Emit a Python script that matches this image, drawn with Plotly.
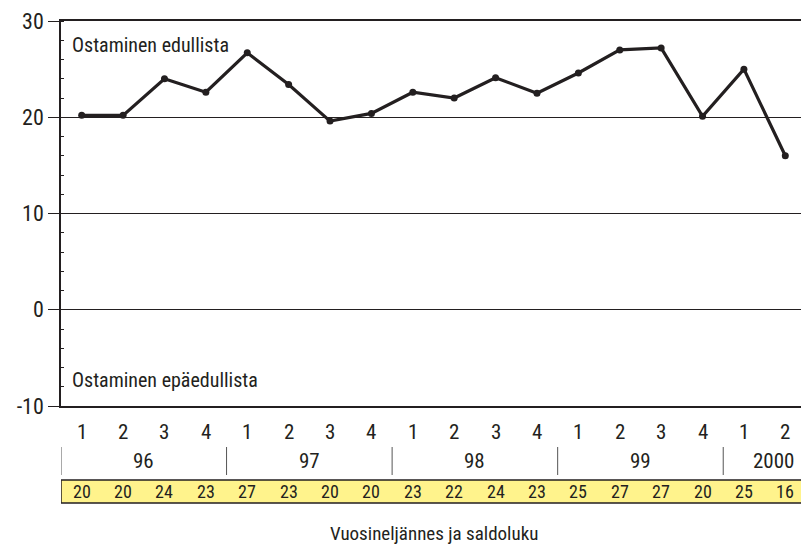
import plotly.graph_objects as go

quarters = ["1", "2", "3", "4"] * 4 + ["1", "2"]
years = ["96", "97", "98", "99", "2000"]
year_spans = [(0, 3), (4, 7), (8, 11), (12, 15), (16, 17)]
values = [20.2, 20.2, 24.0, 22.6, 26.7, 23.4, 19.6, 20.4, 22.6, 22.0,
          24.1, 22.5, 24.6, 27.0, 27.2, 20.1, 25.0, 16.0]
table_values = [20, 20, 24, 23, 27, 23, 20, 20, 23, 22, 24, 23, 25, 27, 27, 20, 25, 16]
y_ticks = [30, 20, 10, 0, -10]

FONT = "Roboto Condensed, DejaVu Sans Condensed, sans-serif"
INK = "#231f20"
W, H = 809, 544
OFF = 8  # page body margin offset
# plot area in page pixels: x 61..806, y 21..406
L = 61 - OFF
T = 21 - OFF
R = W - (806 - OFF)
B = H - (406 - OFF)
PH = H - T - B


def py(p):
    # page pixel y (from top) -> paper coordinate
    return ((406 - OFF) - (p - OFF)) / PH


def txt(size):
    return dict(size=size, color=INK, family=FONT)


x = list(range(len(values)))
fig = go.Figure()
fig.add_trace(go.Scatter(
    x=x, y=values, mode="lines+markers",
    line=dict(color=INK, width=3.2),
    marker=dict(color=INK, size=7),
    hoverinfo="skip", showlegend=False,
))

annotations = []
shapes = []

# quarter labels
for i, q in enumerate(quarters):
    annotations.append(dict(x=i, y=py(432), xref="x", yref="paper", text=q,
                            yanchor="middle", showarrow=False, font=txt(21)))
# year labels and separators
for (a, b), yr in zip(year_spans, years):
    if yr == "2000":
        annotations.append(dict(x=b + 0.5, y=py(461), xref="x", yref="paper", text=yr,
                                xanchor="right", yanchor="middle", xshift=-10,
                                showarrow=False, font=txt(21)))
    else:
        annotations.append(dict(x=(a + b) / 2, y=py(461), xref="x", yref="paper", text=yr,
                                yanchor="middle", showarrow=False, font=txt(21)))
    shapes.append(dict(type="line", xref="x", yref="paper", x0=a - 0.5, x1=a - 0.5,
                       y0=py(447), y1=py(475), line=dict(color="#555555", width=1)))
shapes.append(dict(type="line", xref="x", yref="paper", x0=17.5, x1=17.5,
                   y0=py(447), y1=py(475), line=dict(color="#555555", width=1)))

# yellow table
shapes.append(dict(type="rect", xref="x", yref="paper", x0=-0.5, x1=17.5,
                   y0=py(503), y1=py(480), fillcolor="#fff38c",
                   line=dict(color=INK, width=1.5), layer="below"))
for i, v in enumerate(table_values):
    annotations.append(dict(x=i, y=py(491.5), xref="x", yref="paper", text=str(v),
                            yanchor="middle", showarrow=False, font=txt(18)))

# axis title
annotations.append(dict(x=0.5, y=py(533), xref="paper", yref="paper",
                        text="Vuosineljännes ja saldoluku", yanchor="middle",
                        showarrow=False, font=txt(19)))

# region labels
annotations.append(dict(x=-0.5, y=py(45), xref="x", yref="paper", text="Ostaminen edullista",
                        xanchor="left", yanchor="middle", xshift=9, showarrow=False,
                        font=txt(20)))
annotations.append(dict(x=-0.5, y=py(380), xref="x", yref="paper", text="Ostaminen epäedullista",
                        xanchor="left", yanchor="middle", xshift=9, showarrow=False,
                        font=txt(20)))

fig.update_layout(
    width=W, height=H,
    margin=dict(l=L, r=R, t=T, b=B, pad=0, autoexpand=False),
    paper_bgcolor="white", plot_bgcolor="white",
    font=dict(family=FONT, size=20, color=INK),
    xaxis=dict(range=[-0.5, 17.5], showgrid=False, zeroline=False, showticklabels=False,
               ticks="", showline=True, mirror=True, linecolor=INK, linewidth=1.5,
               fixedrange=True, automargin=False),
    yaxis=dict(range=[-10, 30], tickvals=y_ticks, ticktext=[str(t) for t in y_ticks],
               ticks="outside", ticklen=11, tickwidth=1, tickcolor=INK,
               showgrid=True, gridcolor=INK, gridwidth=1.2, zeroline=False,
               showline=True, mirror=True, linecolor=INK, linewidth=1.5,
               minor=dict(dtick=2, ticks="inside", ticklen=3, tickcolor=INK, showgrid=False),
               tickfont=txt(22), fixedrange=True, automargin=False),
    annotations=annotations, shapes=shapes,
)

fig.write_html("out.html")
